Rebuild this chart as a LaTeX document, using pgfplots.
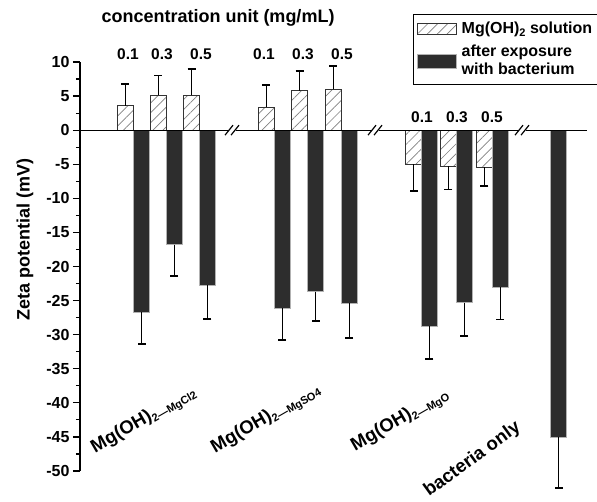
\documentclass[border=0pt]{standalone}
\usepackage{fontspec}
\setmainfont{Liberation Sans}
\usepackage{pgfplots}
\usepackage{pgfplotstable}
\pgfplotsset{compat=1.18}
\usetikzlibrary{patterns.meta}

\definecolor{barDark}{RGB}{45,45,45}

% x = bar centre (axis units), y = zeta potential (mV), err = one-sided error
\pgfplotstableread{
x     y     err
125.3 3.6   3.2
158.2 5.1   2.9
191.5 5.1   3.9
266.2 3.4   3.2
299.7 5.8   2.9
333.2 6.0   3.4
}\solpos
\pgfplotstableread{
x     y     err
413.5 -5.0  3.9
448.4 -5.3  3.4
484.3 -5.4  2.8
}\solneg
\pgfplotstableread{
x     y     err
141.5 -26.7 4.7
174.0 -16.8 4.6
207.4 -22.7 5.0
282.0 -26.1 4.7
315.5 -23.7 4.3
349.0 -25.4 5.1
429.3 -28.8 4.8
464.0 -25.3 4.9
500.0 -23.0 4.8
558.7 -45.0 7.5
}\bact

\pgfplotsset{
    hatchimg/.style={legend image code/.code={\draw[##1] (0pt,-5.5pt) rectangle (39pt,5.5pt);}},
    darkimg/.style={legend image code/.code={\draw[##1] (0pt,-7pt) rectangle (39pt,7pt);}},
}

\begin{document}
\begin{tikzpicture}
\useasboundingbox (0,0) rectangle (597pt,501pt);
\begin{axis}[
    at={(80pt,30pt)}, anchor=south west,
    scale only axis, width=507pt, height=409pt,
    xmin=80, xmax=587, ymin=-50, ymax=10,
    axis x line=none, axis y line=left,
    y axis line style={-, line width=1.3pt},
    xtick=\empty,
    ytick={-50,-45,...,10},
    yticklabels={-50,-45,-40,-35,-30,-25,-20,-15,-10,-5,0,5,10},
    minor y tick num=1,
    tick align=outside, major tick length=7pt, minor tick length=4pt,
    y tick style={line width=1.2pt, black},
    yticklabel style={font=\bfseries\fontsize{16}{16}\selectfont},
    ylabel={Zeta potential (mV)},
    ylabel style={font=\bfseries\fontsize{18}{18}\selectfont,
        at={(axis description cs:-0.1085,0.567)}, anchor=center},
    clip=false,
    ybar, bar width=16,
    legend style={at={(axis cs:412.5,17.1)}, anchor=north west,
        draw=black, line width=1.2pt, inner xsep=4pt, inner ysep=6pt,
        font=\bfseries\fontsize{16}{18}\selectfont,
        cells={align=left}, row sep=6pt, column sep=3pt},
    legend cell align=left,
    error bars/error bar style={line width=1pt, black},
    error bars/error mark options={rotate=90, mark size=4pt, line width=1.5pt, black},
]
\addplot[bar shift=0pt, draw=black!80, line width=0.6pt,
    pattern={Lines[angle=45, distance=7pt, line width=0.7pt]}, pattern color=gray,
    hatchimg,
    error bars/.cd, y dir=plus, y explicit]
    table[x=x, y=y, y error=err] {\solpos};
\addlegendentry{Mg(OH)\raisebox{-3pt}{\fontsize{11}{11}\selectfont 2} solution}
\addplot[forget plot, bar shift=0pt, draw=black!80, line width=0.6pt,
    pattern={Lines[angle=45, distance=7pt, line width=0.7pt]}, pattern color=gray,
    error bars/.cd, y dir=minus, y explicit]
    table[x=x, y=y, y error=err] {\solneg};
\addplot[bar shift=0pt, fill=barDark, draw=gray!60, line width=0.6pt,
    darkimg,
    error bars/.cd, y dir=minus, y explicit]
    table[x=x, y=y, y error=err] {\bact};
\addlegendentry{after exposure\\with bacterium}

% zero line with axis breaks
\draw[line width=1.2pt] (axis cs:80,0) -- (axis cs:228,0);
\draw[line width=1.2pt] (axis cs:236,0) -- (axis cs:371,0);
\draw[line width=1.2pt] (axis cs:379,0) -- (axis cs:518,0);
\draw[line width=1.2pt] (axis cs:526,0) -- (axis cs:587,0);
\draw[line width=1.2pt] (axis cs:225,-0.73) -- (axis cs:233,0.73);
\draw[line width=1.2pt] (axis cs:231,-0.73) -- (axis cs:239,0.73);
\draw[line width=1.2pt] (axis cs:368,-0.73) -- (axis cs:376,0.73);
\draw[line width=1.2pt] (axis cs:374,-0.73) -- (axis cs:382,0.73);
\draw[line width=1.2pt] (axis cs:515,-0.73) -- (axis cs:523,0.73);
\draw[line width=1.2pt] (axis cs:521,-0.73) -- (axis cs:529,0.73);

% concentration labels
\node[font=\bfseries\fontsize{18}{18}\selectfont] at (axis cs:218,16.4) {concentration unit (mg/mL)};
\begin{scope}[every node/.style={font=\bfseries\fontsize{15.5}{16}\selectfont}]
\node at (axis cs:128,11.1) {0.1};
\node at (axis cs:162,11.1) {0.3};
\node at (axis cs:201,11.1) {0.5};
\node at (axis cs:264,11.1) {0.1};
\node at (axis cs:303,11.1) {0.3};
\node at (axis cs:342,11.1) {0.5};
\node at (axis cs:422,1.9) {0.1};
\node at (axis cs:457,1.9) {0.3};
\node at (axis cs:492,1.9) {0.5};
\end{scope}

% group names
\begin{scope}[every node/.style={rotate=30, anchor=base west, inner sep=0pt,
    font=\bfseries\fontsize{18.5}{18}\selectfont}]
\node at (axis cs:95,-47.4) {Mg(OH)\raisebox{-3pt}{\fontsize{11}{11}\selectfont 2—MgCl2}};
\node at (axis cs:215,-47.4) {Mg(OH)\raisebox{-3pt}{\fontsize{11}{11}\selectfont 2—MgSO4}};
\node at (axis cs:355,-47.1) {Mg(OH)\raisebox{-3pt}{\fontsize{11}{11}\selectfont 2—MgO}};
\node[rotate=6] at (axis cs:429,-53.8) {bacteria only};
\end{scope}
\end{axis}
\end{tikzpicture}
\end{document}
